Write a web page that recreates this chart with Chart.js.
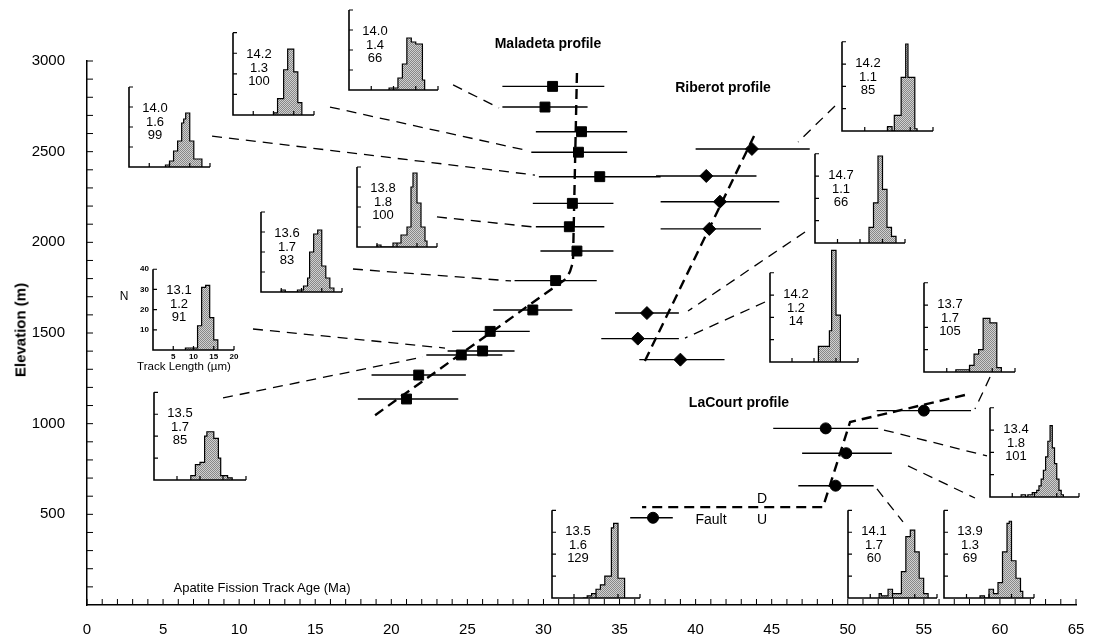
<!DOCTYPE html>
<html><head><meta charset="utf-8">
<script src="https://cdn.jsdelivr.net/npm/chart.js@4.4.1/dist/chart.umd.min.js"></script>
<style>
html,body{margin:0;padding:0;background:#fff;}
#wrap{position:relative;width:1097px;height:636px;overflow:hidden;font-family:"Liberation Sans",Arial,Helvetica,sans-serif;color:#000;}
#main{position:absolute;left:0;top:0;}
.lbl{position:absolute;white-space:nowrap;line-height:1;transform:translate(-50%,-50%);}
.b{font-weight:bold;}
.ins{position:absolute;}
.itxt{position:absolute;text-align:center;font-size:13px;line-height:13.5px;width:50px;}
</style></head><body><div id="wrap"><canvas id="main" width="1097" height="636"></canvas></div>
<script>
// ---------- main data ----------
const ageTicks  = [0,5,10,15,20,25,30,35,40,45,50,55,60,65];
const elevTicks = [500,1000,1500,2000,2500,3000];

// Maladeta profile (squares)
const malAge  = [30.6,30.1,32.5,32.3,33.7,31.9,31.7,32.2,30.8,29.3,26.5,26.0,24.6,21.8,21.0];
const malElev = [2860,2746,2610,2497,2362,2215,2086,1952,1789,1627,1509,1401,1379,1268,1136];
const malLo   = [27.3,27.3,29.5,29.2,29.7,29.3,29.5,29.8,28.1,26.7,24.0,23.7,22.3,18.7,17.8];
const malHi   = [34.0,32.9,35.5,35.5,37.7,34.6,34.0,34.6,33.5,31.9,29.1,28.1,27.3,24.9,24.4];

// Riberot profile (diamonds)
const ribAge  = [43.7,40.7,41.6,40.9,36.8,36.2,39.0];
const ribElev = [2515,2366,2224,2074,1610,1469,1353];
const ribLo   = [40.0,37.4,37.7,37.7,34.7,33.8,36.3];
const ribHi   = [47.5,44.0,45.5,44.3,38.9,38.9,41.9];

// LaCourt profile (circles), last one is below the fault
const lacAge  = [55.0,48.55,49.9,49.2,37.2];
const lacElev = [1072,974,837,658,481];
const lacLo   = [51.9,45.1,47.0,46.75,35.7];
const lacHi   = [58.1,52.0,52.9,51.7,38.5];

// dashed trend lines
const malTrendAge  = [32.2,31.94,31.75,31.5,18.67];
const malTrendElev = [2934,1892,1840,1800,1031];
const ribTrendAge  = [43.84,36.54];
const ribTrendElev = [2586,1324];
const lacTrendAge  = [57.7,50.15,48.37,36.48];
const lacTrendElev = [1158,1009,540,540];

// leader lines (inset -> sample)
const leadAge1  = [24.06,15.97,8.22,23.0,17.48,10.91,8.94,49.16,47.19,44.56,59.35,52.38,53.96,51.92];
const leadElev1 = [2868,2746,2586,2140,1853,1522,1142,2752,2057,1671,1257,965,767,640];
const leadAge2  = [27.08,29.05,29.44,29.31,27.87,23.53,22.08,46.73,39.5,39.3,58.36,59.15,58.36,53.63];
const leadElev2 = [2741,2504,2371,2085,1787,1417,1368,2553,1621,1472,1081,822,590,458];

// ---------- inset histograms (track length, 0.5 µm bins) ----------
const histBin = 0.5;
const histStart = [9,10,9,5,5,8,8,10,12,11,7,7,7,7,8];
const hA = [1,1,1,1,6,6,13,13,26,26,24,24,23,23,23,5];
const hB = [1,1,8,8,8,22,22,32,32,32,21,21,6,6];
const hC = [1,1,3,3,8,8,13,13,22,24,27,27,13,13,4,4,4,4];
const hD = [1,1,0,0,0,0,0,0,2,2,2,2,6,6,6,10,10,30,37,37,22,22,10,10,3];
const hE = [1,1,0,0,0,0,0,0,1,1,1,3,3,7,20,20,29,29,31,31,13,13,7,7,2,2];
const hF = [1,1,1,1,1,1,12,12,31,31,32,32,16,16,5,5];
const hG = [2,2,7,7,8,8,20,22,22,22,19,19,10,2,2,2,1,1];
const hH = [2,2,0,7,7,7,24,24,39,24,24,24,1];
const hI = [7,7,18,18,39,39,24,24,7,7,3,3];
const hJ = [7,7,7,7,7,14,50,50,21,21];
const hK = [1,1,1,1,1,1,3,3,8,8,10,10,24,24,24,22,22,22,2,2];
const hL = [1,1,0,1,1,2,2,3,5,8,12,18,25,32,22,15,8,3,1];
const hM = [2,1,1,1,4,4,2,2,2,2,12,12,28,28,31,31,21,21,9,9,2,2];
const hN = [0,0,1,1,2,2,4,4,6,6,10,10,10,32,34,34,9,9,9];
const hO = [1,1,0,0,4,4,2,2,7,7,21,21,34,35,17,17,9,9,3];
const histCounts = [hA,hB,hC,hD,hE,hF,hG,hH,hI,hJ,hK,hL,hM,hN,hO];
const insetMean = ['14.0','14.2','14.0','13.8','13.6','13.1','13.5','14.2','14.7','14.2','13.7','13.4','14.1','13.5','13.9'];
const insetSD   = ['1.4','1.3','1.6','1.8','1.7','1.2','1.7','1.1','1.1','1.2','1.7','1.8','1.7','1.6','1.3'];
const insetN    = ['66','100','99','100','83','91','85','85','66','14','105','101','60','129','69'];
const insetYTicks = [10,20,30,40];
const insetXTicks = [5,10,15,20];

// inset placement (pixels): left axis x, top (=40), width (0..20), height (0..40)
const insetLeft = [349,233,129,357,261,153,154,842,815,770,924,990,848,552,944];
const insetTop  = [10,33,87,167,212,269,392,42,154,273,283,408,510,510,510];
const insetW    = [89,81,81,80,81,81,92,91,90,88,91,89,89,88,90];
const insetH    = [80,82,80,80,80,81,88,89,89,89,89,89,88,88,88];
const labelledInset = 5;

// ---------- helpers ----------
const FAM = '"Liberation Sans", Arial, Helvetica, sans-serif';
Chart.defaults.font.family = FAM;
Chart.defaults.color = '#000';
const wrap = document.getElementById('wrap');

function pts(xs, ys){ return xs.map((x,i)=>({x:x, y:ys[i]})); }
function errSegs(lo, hi, ys){ const d=[]; ys.forEach((y,i)=>{ d.push({x:lo[i],y:y},{x:hi[i],y:y},{x:null,y:null}); }); return d; }
function pairSegs(x1,y1,x2,y2){ const d=[]; x1.forEach((x,i)=>{ d.push({x:x,y:y1[i]},{x:x2[i],y:y2[i]},{x:null,y:null}); }); return d; }
function histPts(start, counts){
  const p=[{x:start,y:0}];
  counts.forEach((c,i)=>p.push({x:start+i*histBin, y:c}));
  p.push({x:start+counts.length*histBin, y:0});
  return p;
}
function ticksPlugin(cfg){
  return {
    id:'inTicks',
    afterDatasetsDraw(chart){
      const ctx=chart.ctx, xs=chart.scales.x, ys=chart.scales.y;
      const x0=xs.getPixelForValue(cfg.xMin), y0=ys.getPixelForValue(cfg.yMin);
      ctx.save(); ctx.strokeStyle='#000';
      if (cfg.axes){
        ctx.lineWidth=cfg.axisWidth; ctx.beginPath();
        ctx.moveTo(x0, ys.getPixelForValue(cfg.yTop)); ctx.lineTo(x0,y0);
        ctx.lineTo(xs.getPixelForValue(cfg.xRight), y0); ctx.stroke();
      }
      ctx.lineWidth=cfg.width; ctx.beginPath();
      cfg.xVals.forEach(v=>{ const p=xs.getPixelForValue(v); ctx.moveTo(p,y0); ctx.lineTo(p,y0-cfg.len); });
      cfg.yVals.forEach(v=>{ const p=ys.getPixelForValue(v); ctx.moveTo(x0,p); ctx.lineTo(x0+cfg.len,p); });
      ctx.stroke();
      if (cfg.labels){
        ctx.fillStyle='#000'; ctx.font='bold 8px '+FAM;
        ctx.textAlign='right'; ctx.textBaseline='middle';
        cfg.yVals.forEach(v=>ctx.fillText(String(v), x0-4, ys.getPixelForValue(v)));
        ctx.textAlign='center'; ctx.textBaseline='top';
        cfg.xVals.forEach(v=>ctx.fillText(String(v), xs.getPixelForValue(v), y0+3));
      }
      ctx.restore();
    }
  };
}

// ---------- main chart ----------
const lineBase = {type:'line', pointRadius:0, borderColor:'#000', fill:false, spanGaps:false, tension:0};
const allTicksX = []; for (let v=0; v<=65; v++) allTicksX.push(v);
const allTicksY = []; for (let v=100; v<=3000; v+=100) allTicksY.push(v);

new Chart(document.getElementById('main'), {
  type:'line',
  data:{datasets:[
    {type:'line', showLine:false, data:pts(malAge,malElev), pointStyle:'rect', pointRadius:7, backgroundColor:'#000', borderColor:'#000', order:0},
    {type:'line', showLine:false, data:pts(ribAge,ribElev), pointStyle:'rectRot', pointRadius:6.5, backgroundColor:'#000', borderColor:'#000', order:0},
    {type:'line', showLine:false, data:pts(lacAge,lacElev), pointStyle:'circle', pointRadius:5.5, backgroundColor:'#000', borderColor:'#000', order:0},
    Object.assign({}, lineBase, {data:errSegs(malLo,malHi,malElev), borderWidth:1.4, order:1}),
    Object.assign({}, lineBase, {data:errSegs(ribLo,ribHi,ribElev), borderWidth:1.4, order:1}),
    Object.assign({}, lineBase, {data:errSegs(lacLo,lacHi,lacElev), borderWidth:1.4, order:1}),
    Object.assign({}, lineBase, {data:pts(malTrendAge,malTrendElev), borderWidth:2.4, borderDash:[10,6], order:2}),
    Object.assign({}, lineBase, {data:pts(ribTrendAge,ribTrendElev), borderWidth:2.4, borderDash:[10,6], order:2}),
    Object.assign({}, lineBase, {data:pts(lacTrendAge,lacTrendElev), borderWidth:2.4, borderDash:[10,6], order:2}),
    Object.assign({}, lineBase, {data:pairSegs(leadAge1,leadElev1,leadAge2,leadElev2), borderWidth:1.3, borderDash:[10,7], order:3})
  ]},
  options:{
    responsive:false, animation:false, devicePixelRatio:1, events:[],
    layout:{padding:{left:0, right:21, top:61, bottom:0}},
    plugins:{legend:{display:false}, tooltip:{enabled:false}},
    scales:{
      x:{type:'linear', min:0, max:65,
         afterBuildTicks:s=>{ s.ticks = ageTicks.map(v=>({value:v})); },
         afterFit:s=>{ s.height=31; },
         grid:{display:false}, border:{display:true, color:'#000', width:1.5},
         ticks:{font:{size:15}, color:'#000', padding:8, maxRotation:0, autoSkip:false, callback:v=>String(v)}},
      y:{type:'linear', min:0, max:3000,
         afterBuildTicks:s=>{ s.ticks = elevTicks.map(v=>({value:v})); },
         afterFit:s=>{ s.width=87; },
         grid:{display:false}, border:{display:true, color:'#000', width:1.5},
         ticks:{font:{size:15}, color:'#000', padding:14, autoSkip:false, callback:v=>String(v)}}
    }
  },
  plugins:[ticksPlugin({xMin:0, yMin:0, xVals:allTicksX, yVals:allTicksY, len:6, width:1, axes:false})]
});

// ---------- insets ----------
const pattern = (function(){
  const c=document.createElement('canvas'); c.width=2; c.height=2;
  const g=c.getContext('2d'); g.fillStyle='#d0d0d0'; g.fillRect(0,0,2,2);
  g.fillStyle='#888888'; g.fillRect(0,0,1,1); g.fillRect(1,1,1,1);
  return g.createPattern(c,'repeat');
})();

histCounts.forEach((counts,i)=>{
  const padL=22, padR=6, padT=6, padB=16, yMax=52;
  const w=insetW[i], h40=insetH[i], hA_=Math.round(h40*yMax/40);
  const cv=document.createElement('canvas');
  cv.className='ins';
  cv.width=w+padL+padR; cv.height=hA_+padT+padB;
  cv.style.left=(insetLeft[i]-padL)+'px';
  cv.style.top=(insetTop[i]+h40-hA_-padT)+'px';
  wrap.appendChild(cv);
  new Chart(cv, {
    type:'line',
    data:{datasets:[{data:histPts(histStart[i],counts), stepped:true, fill:'origin',
      backgroundColor:pattern, borderColor:'#000', borderWidth:1.2, pointRadius:0}]},
    options:{responsive:false, animation:false, devicePixelRatio:1, events:[],
      layout:{padding:{left:padL,right:padR,top:padT,bottom:padB}},
      plugins:{legend:{display:false}, tooltip:{enabled:false}},
      scales:{x:{type:'linear',display:false,min:0,max:20}, y:{type:'linear',display:false,min:0,max:yMax}}},
    plugins:[ticksPlugin({xMin:0,yMin:0,yTop:40,xRight:20,xVals:insetXTicks,yVals:insetYTicks,len:4,width:1.2,axes:true,axisWidth:1.6,labels:i===labelledInset})]
  });
  const t=document.createElement('div');
  t.className='itxt';
  t.style.left=(insetLeft[i]+26-25)+'px';
  t.style.top=(insetTop[i]+14)+'px';
  t.innerHTML=insetMean[i]+'<br>'+insetSD[i]+'<br>'+insetN[i];
  wrap.appendChild(t);
});

// ---------- text labels ----------
function label(txt, x, y, size, cls, extra){
  const d=document.createElement('div'); d.className='lbl '+(cls||'');
  d.style.left=x+'px'; d.style.top=y+'px'; d.style.fontSize=size+'px';
  if (extra) d.style.transform=extra;
  d.textContent=txt; wrap.appendChild(d);
}
label('Maladeta profile', 548, 43, 14, 'b');
label('Riberot profile', 723, 87, 14, 'b');
label('LaCourt profile', 739, 402, 14, 'b');
label('Apatite Fission Track Age (Ma)', 262, 587, 13, '');
label('Fault', 711, 519, 14, '');
label('D', 762, 498, 14, '');
label('U', 762, 519, 14, '');
label('N', 124, 296, 12, '');
label('Track Length (µm)', 184, 367, 11.5, '');
label('Elevation (m)', 20, 330, 15, 'b', 'translate(-50%,-50%) rotate(-90deg)');
</script>
</body></html>
